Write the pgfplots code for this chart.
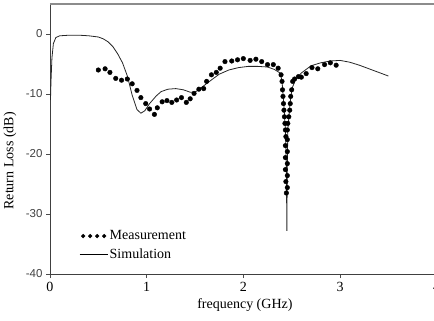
\documentclass[border=0pt]{standalone}
\usepackage{fontspec}
\setmainfont{Liberation Serif}
\newfontfamily\arialfont{Liberation Sans}
\usepackage{pgfplots}
\pgfplotsset{compat=1.18}
\begin{document}
\begin{tikzpicture}
\useasboundingbox (0,0) rectangle (434bp,321bp);
\begin{axis}[
  at={(50bp,47bp)}, anchor=south west,
  scale only axis, width=386.7bp, height=270bp,
  xmin=0, xmax=4, ymin=-40, ymax=5,
  xtick={0,1,2,3,4}, ytick={-40,-30,-20,-10,0},
  axis lines*=left, axis line style={-, line width=0.9pt, color=black!75},
  tick align=outside, major tick length=4bp,
  tick style={line width=0.6pt, color=black!70},
  /pgf/number format/assume math mode=true,
  xticklabel style={font=\fontsize{14bp}{16bp}\selectfont, yshift=-1bp},
  yticklabel style={font=\arialfont\fontsize{11.5bp}{13bp}\selectfont, text=black!75},
  clip=false,
  legend style={draw=none, fill=none, at={(rel axis cs:0.075,0.045)}, anchor=south west,
    font=\fontsize{14bp}{16bp}\selectfont, row sep=4.5bp, inner sep=0pt,
    nodes={inner sep=1.5bp}},
  legend cell align=left,
]
\draw[black!45, line width=1.2pt] (rel axis cs:0,1) -- (rel axis cs:1,1);
\addplot[only marks, mark=*, mark size=2.3bp, black,
  legend image code/.code={\foreach \i in {0,1,2,3}{\fill[black] (3.5bp+\i*7bp,0bp) circle (1.9bp);}}]
coordinates {
(0.50,-6.0) (0.57,-5.8) (0.62,-6.4) (0.68,-7.4) (0.74,-7.7) (0.80,-7.5) (0.85,-8.3)
(0.90,-9.4) (0.94,-10.6) (0.99,-11.6) (1.03,-12.5) (1.08,-13.4) (1.11,-12.3) (1.16,-11.3)
(1.21,-11.1) (1.26,-11.4) (1.31,-11.0) (1.36,-10.6) (1.41,-11.4) (1.45,-10.8) (1.49,-9.9)
(1.54,-9.2) (1.59,-9.1) (1.62,-7.9) (1.67,-6.8) (1.72,-6.4) (1.76,-5.7) (1.81,-4.6)
(1.88,-4.5) (1.94,-4.3) (2.00,-4.1) (2.07,-4.4) (2.13,-4.2) (2.19,-4.6) (2.25,-5.1)
(2.31,-5.1) (2.36,-5.7) (2.39,-6.8) (2.40,-7.9) (2.405,-9.3) (2.41,-10.4) (2.415,-11.6)
(2.42,-12.7) (2.425,-13.8) (2.43,-14.9) (2.435,-16) (2.44,-17.1)
(2.455,-17.6) (2.435,-18.6) (2.455,-19.6) (2.435,-20.6) (2.455,-21.6) (2.435,-22.6)
(2.455,-23.6) (2.44,-24.6) (2.455,-25.6) (2.445,-26.5)
(2.455,-16) (2.46,-14.9) (2.47,-13.8) (2.48,-12.7) (2.485,-11.6) (2.49,-10.4) (2.50,-9.3)
(2.51,-7.9) (2.53,-7.5) (2.57,-7.1) (2.60,-7.2) (2.65,-6.6) (2.71,-5.6) (2.77,-5.8)
(2.84,-5.1) (2.90,-4.8) (2.96,-5.2)
};
\addlegendentry{Measurement}
\addplot[black!85, line width=0.8pt, mark=none,
  legend image code/.code={\draw[black, line width=1pt] (0bp,0bp) -- (28bp,0bp);}]
coordinates {
(0.005,-11) (0.01,-8) (0.02,-4) (0.035,-1.6) (0.06,-0.6) (0.1,-0.3) (0.2,-0.2) (0.3,-0.2)
(0.4,-0.3) (0.5,-0.5) (0.55,-0.8) (0.6,-1.3) (0.65,-2.1) (0.7,-3.3) (0.75,-4.8) (0.8,-7.0)
(0.85,-10.2) (0.9,-12.6) (0.94,-13.2) (0.98,-12.8) (1.03,-11.6) (1.1,-10.3) (1.15,-9.6)
(1.22,-9.2) (1.3,-9.1) (1.38,-9.3) (1.45,-9.7) (1.5,-9.7) (1.56,-9.0) (1.65,-7.9)
(1.75,-6.7) (1.85,-6.0) (1.95,-5.6) (2.05,-5.4) (2.15,-5.4) (2.25,-5.5) (2.32,-5.9)
(2.38,-6.5) (2.40,-7.8) (2.41,-10) (2.42,-12) (2.435,-16) (2.445,-22) (2.45,-32.8)
(2.455,-22) (2.46,-16) (2.475,-13) (2.49,-10.5) (2.51,-8.8) (2.54,-7.6) (2.6,-6.5)
(2.7,-5.3) (2.8,-4.8) (2.9,-4.5) (3.0,-4.4) (3.1,-4.7) (3.2,-5.2) (3.3,-5.8) (3.4,-6.4)
(3.5,-7.0)
};
\addlegendentry{Simulation}
\node[rotate=90, font=\fontsize{14bp}{16bp}\selectfont] at ([xshift=-40bp]rel axis cs:0,0.419) {Return Loss (dB)};
\node[font=\fontsize{14bp}{16bp}\selectfont] at ([yshift=-31bp]rel axis cs:0.504,0) {frequency (GHz)};
\end{axis}
\end{tikzpicture}
\end{document}
